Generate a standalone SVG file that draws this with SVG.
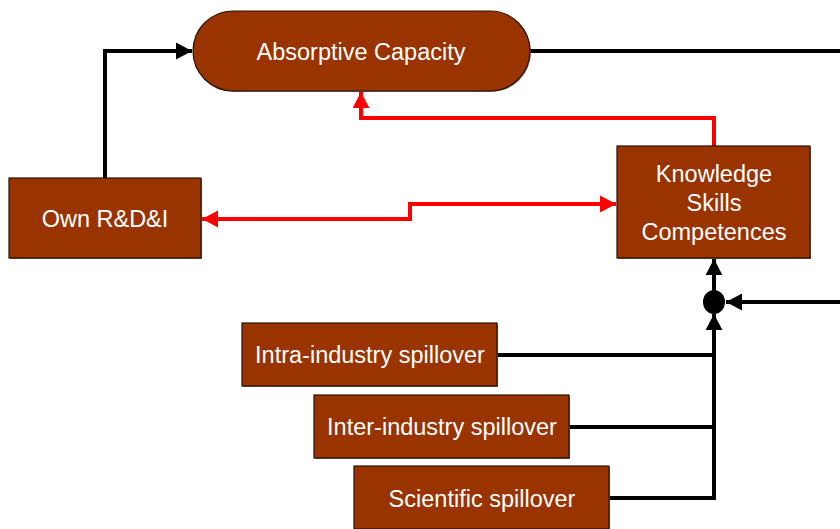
<svg xmlns="http://www.w3.org/2000/svg" width="840" height="529" viewBox="0 0 840 529">
<style>
.box{fill:#993300;stroke:#2a1200;stroke-width:1.2}
.sh{fill:#777}
.t{font-family:"Liberation Sans",Arial,sans-serif;font-size:23.5px;fill:#fff;text-anchor:middle}
.k{fill:none;stroke:#000;stroke-width:4}
.r{fill:none;stroke:#ff0000;stroke-width:4}
</style>
<defs>
<marker id="ak" markerWidth="5" markerHeight="5" refX="4" refY="2.5" orient="auto" markerUnits="strokeWidth"><path d="M0,0.4 L4,2.5 L0,4.6 z" fill="#000"/></marker>
<marker id="ar" markerWidth="5" markerHeight="5" refX="4" refY="2.5" orient="auto-start-reverse" markerUnits="strokeWidth"><path d="M0,0.4 L4,2.5 L0,4.6 z" fill="#ff0000"/></marker>
</defs>
<g id="connectors">
<path class="k" d="M530,51 H840"/>
<path class="k" d="M105,178 V51 H192" marker-end="url(#ak)"/>
<path class="r" d="M714,146 V118 H361 V92" marker-end="url(#ar)"/>
<path class="r" d="M202,219 H410 V204 H616" marker-start="url(#ar)" marker-end="url(#ar)"/>
<path class="k" d="M714,291 V259" marker-end="url(#ak)"/>
<path class="k" d="M840,302 H726" marker-end="url(#ak)"/>
<path class="k" d="M609,498 H714 V314" marker-end="url(#ak)"/>
<path class="k" d="M497,355 H714"/>
<path class="k" d="M570,427 H714"/>
<ellipse cx="714" cy="302" rx="11" ry="12" fill="#000"/>
</g>
<g id="absorptive">
<rect x="194" y="12" width="337" height="80" rx="40" class="sh"/>
<rect x="193" y="11" width="337" height="80" rx="40" class="box"/>
<text x="361" y="60" class="t">Absorptive Capacity</text>
</g>
<g id="own-rdi">
<rect x="10" y="179" width="192" height="80" class="sh"/>
<rect x="9" y="178" width="192" height="80" class="box"/>
<text x="105" y="227" class="t">Own R&amp;D&amp;I</text>
</g>
<g id="knowledge">
<rect x="618" y="147" width="193" height="112" class="sh"/>
<rect x="617" y="146" width="193" height="112" class="box"/>
<text x="714" y="182" class="t">Knowledge</text>
<text x="714" y="211" class="t">Skills</text>
<text x="714" y="240" class="t">Competences</text>
</g>
<g id="intra">
<rect x="243" y="324" width="255" height="63" class="sh"/>
<rect x="242" y="323" width="255" height="63" class="box"/>
<text x="370" y="363" class="t">Intra-industry spillover</text>
</g>
<g id="inter">
<rect x="315" y="396" width="255" height="63" class="sh"/>
<rect x="314" y="395" width="255" height="63" class="box"/>
<text x="442" y="435" class="t">Inter-industry spillover</text>
</g>
<g id="scientific">
<rect x="355" y="467" width="255" height="63" class="sh"/>
<rect x="354" y="466" width="255" height="63" class="box"/>
<text x="482" y="507" class="t">Scientific spillover</text>
</g>
</svg>
